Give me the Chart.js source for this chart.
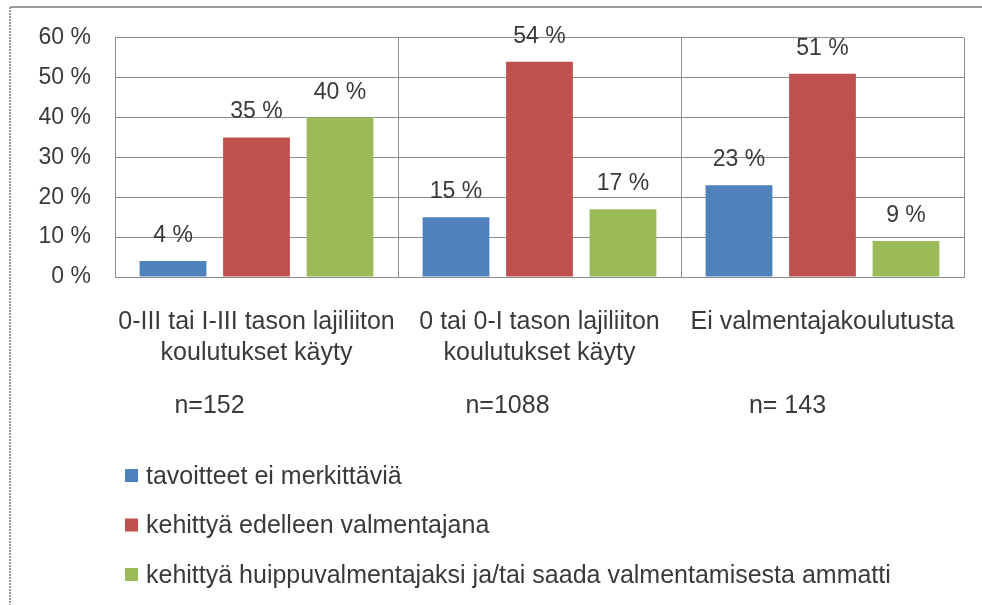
<!DOCTYPE html>
<html>
<head>
<meta charset="utf-8">
<script src="https://cdn.jsdelivr.net/npm/chart.js@4"></script>
<style>
  html, body { margin: 0; padding: 0; background: #fff; }
  #wrap { width: 982px; height: 605px; position: relative; }
</style>
</head>
<body>
<div id="wrap"><canvas id="myChart" width="982" height="605"></canvas></div>
<script>
const categories = [
    ['0-III tai I-III tason lajiliiton', 'koulutukset käyty'],
    ['0 tai 0-I tason lajiliiton', 'koulutukset käyty'],
    ['Ei valmentajakoulutusta']
];
const nLabels = ['n=152', 'n=1088', 'n= 143'];
const seriesNames = [
    'tavoitteet ei merkittäviä',
    'kehittyä edelleen valmentajana',
    'kehittyä huippuvalmentajaksi ja/tai saada valmentamisesta ammatti'
];
const seriesColors = ['#4F81BD', '#C0504D', '#9BBB59'];
const notImportant = [4, 15, 23];
const developFurther = [35, 54, 51];
const topCoach = [40, 17, 9];
const yTicks = [0, 10, 20, 30, 40, 50, 60];

const FONT = '"Liberation Sans", Arial, sans-serif';
const TEXT = '#3a3a3a';
const GRID = '#8c8c8c';

// frame round the whole picture
const framePlugin = {
    id: 'frame',
    beforeDraw(chart) {
        const c = chart.ctx;
        c.save();
        c.strokeStyle = '#9a9a9a';
        c.lineWidth = 2;
        c.beginPath();
        c.moveTo(10, 7);
        c.lineTo(982, 7);
        c.stroke();
        c.setLineDash([2, 1]);
        c.beginPath();
        c.moveTo(10, 7);
        c.lineTo(10, 605);
        c.stroke();
        c.restore();
    }
};

// values above the bars
const valueLabels = {
    id: 'valueLabels',
    afterDatasetsDraw(chart) {
        const c = chart.ctx;
        c.save();
        c.font = '23px ' + FONT;
        c.fillStyle = TEXT;
        c.textAlign = 'center';
        c.textBaseline = 'alphabetic';
        chart.data.datasets.forEach((ds, i) => {
            chart.getDatasetMeta(i).data.forEach((bar, j) => {
                c.fillText(ds.data[j] + ' %', bar.x, bar.y - 19);
            });
        });
        c.restore();
    }
};

// n= texts and the legend below the axis
const extraText = {
    id: 'extraText',
    afterDraw(chart) {
        const c = chart.ctx;
        const x = chart.scales.x;
        const shift = [-47, -32, -35];
        c.save();
        c.font = '25px ' + FONT;
        c.fillStyle = TEXT;
        c.textAlign = 'center';
        c.textBaseline = 'middle';
        nLabels.forEach((t, i) => {
            c.fillText(t, x.getPixelForValue(i) + shift[i], 406);
        });
        c.textAlign = 'left';
        chart.data.datasets.forEach((ds, i) => {
            const y = 476 + i * 49.5;
            c.fillStyle = ds.backgroundColor;
            c.fillRect(125, y - 7, 13, 13);
            c.fillStyle = TEXT;
            c.fillText(ds.label, 146, y + 1);
        });
        c.restore();
    }
};

new Chart(document.getElementById('myChart'), {
    type: 'bar',
    data: {
        labels: categories,
        datasets: [
            { label: seriesNames[0], data: notImportant, backgroundColor: seriesColors[0] },
            { label: seriesNames[1], data: developFurther, backgroundColor: seriesColors[1] },
            { label: seriesNames[2], data: topCoach, backgroundColor: seriesColors[2] }
        ]
    },
    options: {
        responsive: false,
        animation: false,
        events: [],
        layout: { padding: { left: 10, top: 37, right: 18, bottom: 180 } },
        categoryPercentage: 0.885,
        barPercentage: 0.8,
        plugins: { legend: { display: false }, tooltip: { enabled: false } },
        scales: {
            x: {
                afterFit(s) {
                    s.height = 148;
                    s.paddingLeft = 0;
                    s.paddingRight = 0;
                },
                grid: { offset: true, color: GRID, lineWidth: 1, drawTicks: false },
                border: { color: GRID, width: 1 },
                ticks: {
                    color: TEXT,
                    font: { family: FONT, size: 25, lineHeight: 1.25 },
                    padding: 29,
                    maxRotation: 0,
                    autoSkip: false
                }
            },
            y: {
                min: 0,
                max: 60,
                afterFit(s) { s.width = 105; },
                afterBuildTicks(s) { s.ticks = yTicks.map(v => ({ value: v })); },
                grid: { color: GRID, lineWidth: 1, drawTicks: false },
                border: { color: GRID, width: 1 },
                ticks: {
                    color: TEXT,
                    font: { family: FONT, size: 23 },
                    padding: 24,
                    callback: v => v + ' %'
                }
            }
        }
    },
    plugins: [framePlugin, valueLabels, extraText]
});
</script>
</body>
</html>
